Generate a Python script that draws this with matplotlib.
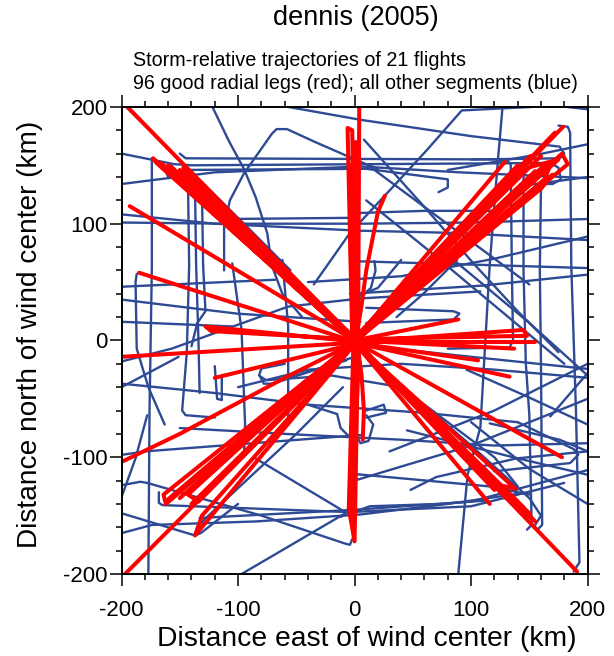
import matplotlib
matplotlib.use("Agg")
import matplotlib.pyplot as plt
from matplotlib.ticker import MultipleLocator

plt.rcParams['font.family'] = ['Liberation Sans', 'DejaVu Sans']
plt.rcParams['axes.unicode_minus'] = False

title = "dennis (2005)"
subtitle = ["Storm-relative trajectories of 21 flights",
            "96 good radial legs (red); all other segments (blue)"]
xticks = [-200, -100, 0, 100, 200]
yticks = [-200, -100, 0, 100, 200]

# storm-relative track pieces (km east, km north)
blue_top = [
    [(-196, 200), (-93, 98), (-55, 60)],
    [(-122, 200), (-108, 171), (-95, 147), (-85, 123), (-75, 92), (-71, 64), (-62, 40), (-45, 20)],
    [(-112, 60), (-112, 97), (-107, 120), (-95, 143), (-71, 177), (-67, 181), (-58, 181), (-34, 170), (5, 153), (20, 147)],
    [(-57, 200), (5, 189), (100, 175), (176, 166), (180, 160), (176, 156), (100, 155)],
    [(-150, 160), (-145, 156), (130, 155), (134, 151), (135, 60), (136, 0), (133, -6), (80, -7)],
    [(-200, 160), (-155, 151), (-140, 150), (168, 152), (175, 148), (177, 138), (170, 134), (150, 134)],
    [(-162, 145), (-160, 140), (-150, 146), (10, 147), (80, 138), (80, 131), (72, 127)],
    [(-200, 134), (-120, 144), (5, 149), (90, 144), (200, 139)],
    [(-200, 108), (-120, 100), (5, 94), (90, 92), (200, 86)],
    [(-200, 101), (-110, 100), (5, 100), (100, 101), (200, 104)],
    [(-111, 104), (-5, 105), (-1, 109), (60, 111), (120, 111)],
    [(152, 200), (92, 197), (62, 163), (25, 123), (-4, 92), (-35, 48)],
    [(127, 200), (123, 154), (116, 65), (108, -74), (97, -115), (89, -200)],
    [(182, 200), (200, 198)],
    [(175, 184), (183, 183), (185, 178), (186, 64), (190, -60), (193, -190), (188, -198)],
    [(8, 172), (62, 112), (102, 66), (140, 25), (175, -10)],
    [(13, 149), (116, 73), (150, 48)],
    [(200, 168), (156, 159), (80, 146)],
    [(148, 133), (200, 140)],
    [(200, 89), (120, 70), (40, 55), (-40, 50)],
    [(10, 120), (60, 80), (120, 30), (180, -20)],
]

blue_mid = [
    [(-200, 46), (-68, 52)],
    [(-200, 35), (-101, 23), (5, 16)],
    [(-200, 16), (-105, 12)],
    [(-200, -18), (-157, -7), (-57, 29), (5, 36), (108, 42)],
    [(-200, -40), (-151, -14)],
    [(-187, 57), (-188, 50), (-187, -7), (-177, -40), (-163, -72)],
    [(-174, 156), (-174, 64), (-176, -60), (-177, -200)],
    [(-143, 137), (-142, 64), (-144, -10), (-148, -60), (-145, -64), (-120, -66)],
    [(-137, 135), (-136, 64), (-134, 0), (-133, -45)],
    [(-131, 128), (-130, 64), (-128, 25), (-135, 15), (-140, -5)],
    [(-105, 66), (-97, 9), (-94, -72), (-95, -100)],
    [(-62, 69), (-57, 12), (-57, -72)],
    [(-120, -22), (-118, -50), (-114, -51), (-114, -30)],
    [(-81, -31), (-78, -37), (-70, -37), (0, -14)],
    [(-60, -20), (-80, -24), (-82, -30), (-76, -34), (-20, -30), (40, -40)],
    [(-64, -34), (-7, -17)],
    [(206, 57), (110, 47), (-4, 40)],
    [(200, 62), (100, 65), (-4, 68)],
    [(206, -25), (100, -14), (-4, -3)],
    [(85, 69), (150, 15), (200, -30)],
    [(200, -28), (168, -65)],
    [(10, 28), (85, 25), (90, 23), (85, 18), (10, 15)],
    [(40, 69), (20, 45), (-4, 35)],
    [(145, 140), (145, 60), (147, -20), (150, -64), (152, -158), (148, -162)],
    [(160, 135), (159, 60), (160, -20), (161, -158), (157, -162)],
    [(88, 69), (59, 40), (36, 20)],
    [(17, 68), (18, 60), (14, 45), (6, 38)],
    [(-200, -37), (-120, -45), (-40, -55), (60, -62), (140, -70)],
    [(-100, -40), (-40, -25), (40, -20), (120, -25), (200, -32)],
    [(200, -72), (148, -48), (96, -25)],
]

blue_low = [
    [(-200, -98), (-180, -95), (5, -81)],
    [(-200, -124), (-184, -121), (-178, -122), (-80, -150), (-8, -174), (-4, -175), (-2, -170)],
    [(-200, -148), (-137, -167), (-132, -165), (-100, -140)],
    [(-200, -165), (-174, -158), (-85, -155), (5, -149), (80, -140), (150, -130)],
    [(-97, -200), (-8, -148)],
    [(-200, -134), (-188, -101), (-178, -64)],
    [(-85, -101), (-8, -147)],
    [(-168, -130), (-168, -139), (-165, -141), (-5, -147), (100, -142), (180, -122)],
    [(-133, -152), (0, -145), (100, -138), (200, -111)],
    [(-134, -158), (-50, -80), (-10, -40)],
    [(-4, -114), (116, -125), (150, -132)],
    [(48, -128), (70, -117), (139, -101), (200, -95)],
    [(200, -50), (100, -90), (0, -120)],
    [(140, -70), (188, -93), (192, -98), (185, -105), (120, -112)],
    [(200, -20), (120, -60), (30, -95)],
    [(200, -140), (150, -110), (100, -70)],
    [(-150, -75), (-60, -80), (40, -85), (120, -90), (200, -88)],
    [(30, -30), (100, -90), (150, -135), (160, -150), (155, -158)],
    [(40, -40), (120, -100), (140, -125), (138, -132)],
    [(-40, -55), (-15, -63), (-12, -75), (-5, -82), (0, -78), (5, -88), (12, -86), (16, -72), (10, -64)],
    [(10, -60), (25, -55), (27, -62), (10, -66)],
    [(200, -95), (176, -85), (116, -71)],
    [(200, -115), (136, -100), (45, -77)],
    [(-12, -151), (13, -142), (73, -140), (114, -137)],
]

# radial legs: out from the centre and (where seen) back again
red_legs = [
    [(1, 0), (-195, 200)],
    [(-2, 1), (-173, 156), (-170, 152), (2, -2)],
    [(0, -1), (-166, 152)],
    [(0, 0), (-160, 150)],
    [(-1, 2), (-158, 149), (-150, 142), (1, -1)],
    [(1, -1), (-150, 146)],
    [(0, 1), (-147, 148), (-142, 142), (1, 0)],
    [(0, 1), (-145, 140), (-140, 136), (0, 0)],
    [(-1, -1), (-155, 145), (-152, 144), (0, 0)],
    [(1, 1), (-138, 138), (-130, 132), (-1, 0)],
    [(-1, 0), (-135, 134)],
    [(0, 0), (-193, 115)],
    [(0, -1), (-185, 58)],
    [(1, -1), (-128, 12), (-123, 8), (0, 1)],
    [(0, -2), (-200, -14)],
    [(0, -3), (-120, -32)],
    [(0, -2), (-60, -32), (-120, -64), (-150, -80), (-200, -104)],
    [(-1, -2), (-164, -132), (-162, -140), (1, -3)],
    [(-1, -1), (-160, -136)],
    [(0, -1), (-150, -135)],
    [(0, -2), (-140, -140)],
    [(0, -2), (-143, -132), (-134, -138), (0, -3)],
    [(0, -3), (-131, -150), (-137, -167), (1, -2)],
    [(1, -2), (-197, -200)],
    [(-1, -3), (-5, -144), (0, -172), (3, -2)],
    [(1, -2), (-3, -120), (-2, -150), (4, -3)],
    [(0, 0), (-1, -160)],
    [(2, 0), (6, -30), (8, -60), (7, -85)],
    [(-2, 0), (-6, 182), (-2, 180), (1, 0)],
    [(3, 0), (4, 200)],
    [(0, 1), (1, 170)],
    [(-1, 1), (-4, 100), (-3, 150), (0, 152), (2, 1)],
    [(1, 0), (6, 30), (10, 60), (15, 85), (20, 110), (26, 124)],
    [(0, 0), (179, 183)],
    [(0, 0), (172, 178)],
    [(1, -1), (178, 160), (183, 151), (0, 0)],
    [(0, 0), (160, 158)],
    [(0, -1), (165, 152)],
    [(-1, 0), (168, 150), (163, 138), (0, 1)],
    [(1, 0), (151, 158), (138, 144), (0, -2)],
    [(1, 0), (155, 145)],
    [(-1, 1), (140, 150)],
    [(0, 1), (145, 147), (175, 155), (1, 0)],
    [(-1, 0), (170, 142), (160, 130), (0, -1)],
    [(-1, -1), (129, 153)],
    [(0, 0), (89, 18)],
    [(0, -1), (145, 9), (148, 4), (0, 1)],
    [(0, -1), (155, -1)],
    [(0, 0), (137, -7)],
    [(0, -2), (106, -17)],
    [(0, -2), (133, -31)],
    [(0, -1), (178, -100)],
    [(0, -2), (138, -127), (125, -124), (0, -1)],
    [(0, -2), (120, -128)],
    [(1, -1), (128, -130)],
    [(0, -2), (116, -140)],
    [(0, -1), (140, -138)],
    [(0, -2), (150, -148)],
    [(1, -1), (152, -152), (147, -150), (0, -2)],
    [(0, 0), (155, -155)],
    [(-1, -1), (145, -143), (130, -135), (1, -2)],
    [(0, 0), (191, -198)],
]

blue = "#2E4A94"
red = "#FF0000"

fig = plt.figure(figsize=(6.14, 6.56), dpi=100)
ax = fig.add_axes([0.198, 0.125, 0.759, 0.712])

for track in blue_top + blue_mid + blue_low:
    xs, ys = zip(*track)
    ax.plot(xs, ys, color=blue, lw=1.7, solid_joinstyle="round", solid_capstyle="round")

for leg in red_legs:
    xs, ys = zip(*leg)
    ax.plot(xs, ys, color=red, lw=2.9, solid_joinstyle="round", solid_capstyle="round")

ax.set_xlim(-200, 200)
ax.set_ylim(-200, 200)
ax.set_xticks(xticks)
ax.set_yticks(yticks)
ax.xaxis.set_minor_locator(MultipleLocator(20))
ax.yaxis.set_minor_locator(MultipleLocator(20))
ax.tick_params(which="both", direction="out", top=True, right=True, width=1.1)
ax.tick_params(which="major", length=8.6)
ax.tick_params(which="minor", length=4.2)
ax.tick_params(axis="x", labelsize=16, pad=10)
ax.tick_params(axis="y", labelsize=16, pad=1.5)
for s in ax.spines.values():
    s.set_linewidth(1.4)

ax.set_xlabel("Distance east of wind center (km)", fontsize=20.3, labelpad=4)
ax.set_ylabel("Distance north of wind center (km)", fontsize=20.2, labelpad=14)
ax.xaxis.label.set_x(0.527)
ax.yaxis.label.set_y(0.512)

fig.text(0.58, 0.972, title, ha="center", va="center", fontsize=19.5)
fig.text(0.216, 0.9085, subtitle[0], ha="left", va="center", fontsize=14.2)
fig.text(0.216, 0.872, subtitle[1], ha="left", va="center", fontsize=14.2)

fig.savefig("out.png", dpi=100)
